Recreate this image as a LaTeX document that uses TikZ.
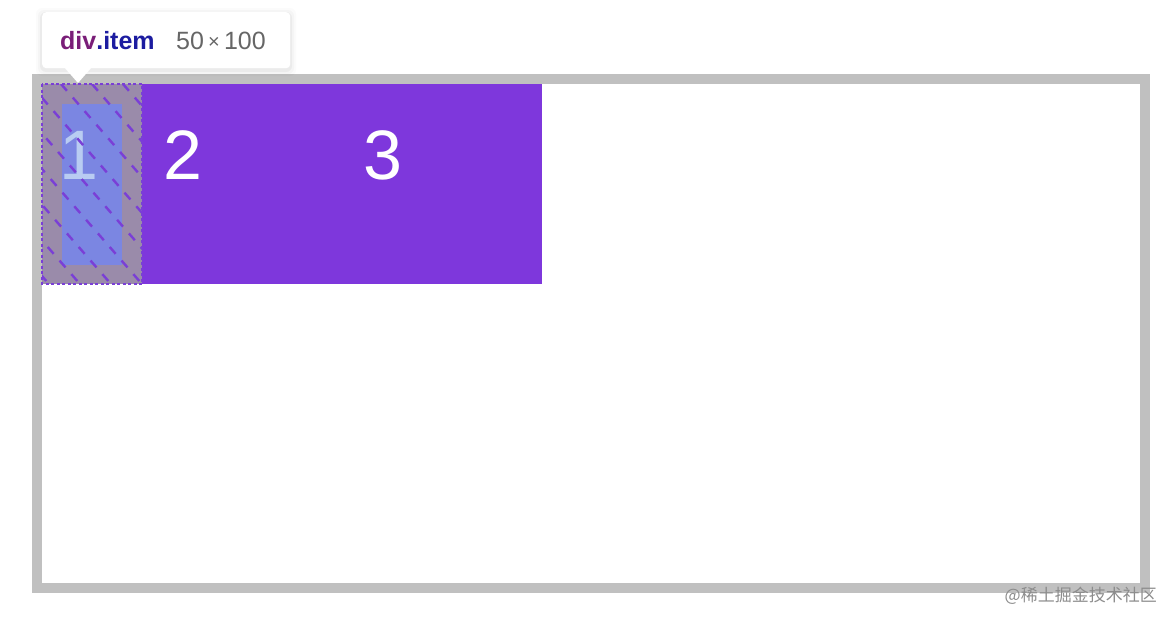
\documentclass[tikz,border=0pt]{standalone}
\usepackage{fontspec}
\setmainfont{Liberation Sans}
\newfontfamily\cjk{Noto Sans CJK SC}
\definecolor{framegray}{HTML}{C0C0C0}
\definecolor{itempurple}{HTML}{7E37DC}
\definecolor{marginpurple}{HTML}{9A8BAA}
\definecolor{contentblue}{HTML}{7B86E2}
\definecolor{hatch}{HTML}{7A3FD6}
\definecolor{divcol}{HTML}{7A1E78}
\definecolor{itemcol}{HTML}{1C1CA0}
\definecolor{sizecol}{HTML}{666666}
\definecolor{onecol}{HTML}{B9CCF2}
\tikzset{
  digit/.style={text=white, font=\fontsize{70}{70}\selectfont, anchor=center, inner sep=0},
  tip/.style={fill=white, rounded corners=4pt, draw=none},
}
\begin{document}
\begin{tikzpicture}[x=1pt,y=-1pt]
\useasboundingbox (0,0) rectangle (1174,624);
% frame
\node[draw=framegray, line width=10pt, minimum width=1108pt, minimum height=509pt, inner sep=0, outer sep=0, anchor=north west] (frame) at (37,79) {};
% purple row
\fill[itempurple] (42,84) rectangle (542,284);
% item 1 highlight
\node[fill=marginpurple, minimum width=100pt, minimum height=200pt, inner sep=0, outer sep=0, anchor=north west] (item1) at (42,84) {};
\node[fill=contentblue, minimum width=60pt, minimum height=161pt, inner sep=0, outer sep=0, anchor=north west] (content1) at (62,104) {};
\node[digit, text=onecol] (d1) at (79,155) {1};
\begin{scope}
  \clip (42,84) rectangle (142,284);
  \foreach \k in {-8,...,4} {
    \draw[hatch, dash pattern=on 9pt off 9pt, line width=2.4pt] (\k*31+30,84) -- ++(200,230);
  }
\end{scope}
\draw[hatch, dash pattern=on 3pt off 2.5pt, line width=1.6pt] (item1.north west) rectangle (item1.south east);
% digits
\node[digit] (d2) at (183,155) {2};
\node[digit] (d3) at (383,155) {3};
% tooltip shadow
\foreach \s/\o in {6/0.015,4/0.025,2/0.04} {
  \fill[black, opacity=\o, rounded corners=6pt] (42-\s,12-\s+2) rectangle (290+\s,68+\s+2);
}
\node[tip, minimum width=248pt, minimum height=56pt, anchor=north west] (tooltip) at (42,12) {};
\fill[white] (64,67) -- (92,67) -- (78,83) -- cycle;
\node[anchor=west, inner sep=0, font=\bfseries\fontsize{25}{25}\selectfont] (lbl) at (60,41) {\textcolor{divcol}{div}\textcolor{itemcol}{.item}};
\node[anchor=west, inner sep=0, text=sizecol, font=\fontsize{25}{25}\selectfont] (size) at (176,41) {50\,\raisebox{1pt}{\fontsize{20}{20}\selectfont×}\,100};
% watermark
\node[anchor=east, inner sep=0, text=black!45, font=\cjk\fontsize{17}{17}\selectfont] (wm) at (1157,596) {@稀土掘金技术社区};
\end{tikzpicture}
\end{document}
